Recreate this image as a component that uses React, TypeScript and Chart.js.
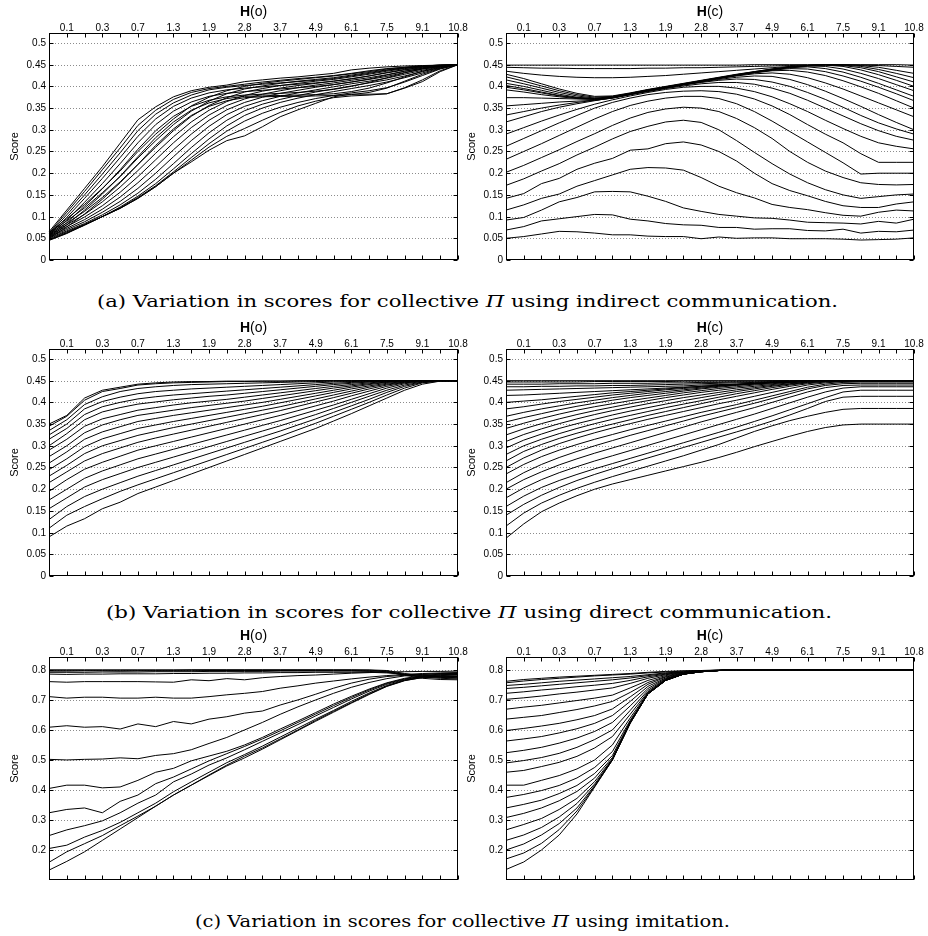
import React, { useEffect, useLayoutEffect, useRef } from 'react';
import { Chart, registerables } from 'chart.js';

Chart.register(...registerables);

// ---------- tick labels ----------
const hTickLabels = ['', '0.1', '', '0.3', '', '0.7', '', '1.3', '', '1.9', '', '2.8', '', '3.7', '', '4.9', '', '6.1', '', '7.5', '', '9.1', '', '10.8'];
const scoreTicks = [0, 0.05, 0.1, 0.15, 0.2, 0.25, 0.3, 0.35, 0.4, 0.45, 0.5];
const imitTicks = [0.2, 0.3, 0.4, 0.5, 0.6, 0.7, 0.8];

// ---------- (a) indirect communication, H(o) ----------
const indirectObs: number[][] = [
  [0.065,0.115,0.165,0.215,0.269,0.323,0.353,0.376,0.39,0.398,0.403,0.411,0.415,0.419,0.422,0.426,0.43,0.438,0.442,0.445,0.447,0.448,0.449,0.45],
  [0.062,0.11,0.158,0.208,0.258,0.31,0.345,0.37,0.386,0.395,0.4,0.405,0.41,0.414,0.418,0.421,0.425,0.43,0.436,0.441,0.444,0.447,0.449,0.45],
  [0.06,0.104,0.15,0.198,0.247,0.298,0.336,0.362,0.38,0.392,0.398,0.402,0.405,0.408,0.411,0.414,0.418,0.424,0.43,0.437,0.442,0.446,0.448,0.45],
  [0.058,0.098,0.142,0.188,0.236,0.285,0.325,0.354,0.373,0.385,0.392,0.396,0.399,0.402,0.405,0.408,0.412,0.417,0.424,0.432,0.439,0.444,0.447,0.45],
  [0.056,0.092,0.133,0.176,0.222,0.27,0.312,0.343,0.364,0.377,0.384,0.388,0.391,0.394,0.397,0.4,0.404,0.41,0.417,0.426,0.435,0.442,0.447,0.45],
  [0.054,0.086,0.124,0.164,0.208,0.255,0.298,0.331,0.354,0.368,0.376,0.38,0.382,0.384,0.386,0.389,0.393,0.4,0.409,0.42,0.431,0.44,0.446,0.45],
  [0.052,0.081,0.115,0.152,0.193,0.238,0.282,0.318,0.345,0.362,0.372,0.377,0.378,0.379,0.38,0.381,0.383,0.388,0.396,0.408,0.422,0.435,0.444,0.45],
  [0.05,0.076,0.106,0.14,0.178,0.22,0.264,0.302,0.333,0.354,0.367,0.374,0.376,0.377,0.377,0.378,0.379,0.381,0.386,0.396,0.412,0.428,0.441,0.45],
  [0.064,0.095,0.128,0.165,0.205,0.25,0.29,0.325,0.355,0.375,0.39,0.4,0.407,0.412,0.416,0.42,0.424,0.429,0.434,0.44,0.444,0.447,0.449,0.45],
  [0.063,0.09,0.12,0.155,0.192,0.235,0.275,0.312,0.343,0.366,0.383,0.394,0.401,0.407,0.412,0.416,0.42,0.426,0.432,0.438,0.443,0.446,0.449,0.45],
  [0.061,0.085,0.112,0.144,0.18,0.22,0.26,0.298,0.331,0.356,0.374,0.387,0.395,0.402,0.407,0.412,0.416,0.422,0.428,0.435,0.441,0.445,0.448,0.45],
  [0.059,0.081,0.105,0.134,0.168,0.206,0.246,0.284,0.318,0.345,0.365,0.379,0.389,0.396,0.402,0.407,0.412,0.418,0.424,0.431,0.438,0.443,0.447,0.45],
  [0.057,0.077,0.099,0.125,0.156,0.192,0.231,0.27,0.305,0.334,0.356,0.371,0.382,0.39,0.397,0.403,0.408,0.414,0.42,0.427,0.435,0.441,0.446,0.45],
  [0.055,0.073,0.093,0.117,0.145,0.178,0.215,0.254,0.29,0.322,0.346,0.363,0.375,0.384,0.391,0.398,0.404,0.41,0.416,0.423,0.432,0.44,0.446,0.45],
  [0.053,0.07,0.088,0.11,0.135,0.165,0.2,0.238,0.275,0.308,0.335,0.354,0.367,0.377,0.385,0.392,0.399,0.406,0.412,0.419,0.428,0.437,0.445,0.45],
  [0.051,0.067,0.084,0.104,0.127,0.154,0.186,0.222,0.259,0.293,0.322,0.344,0.359,0.37,0.379,0.387,0.394,0.401,0.408,0.415,0.424,0.434,0.443,0.45],
  [0.049,0.065,0.082,0.1,0.122,0.147,0.176,0.21,0.245,0.279,0.309,0.333,0.35,0.363,0.373,0.381,0.388,0.395,0.402,0.41,0.42,0.431,0.442,0.45],
  [0.047,0.063,0.081,0.1,0.12,0.144,0.171,0.203,0.236,0.268,0.297,0.32,0.338,0.352,0.363,0.372,0.379,0.385,0.39,0.397,0.41,0.425,0.44,0.45],
  [0.046,0.062,0.08,0.1,0.119,0.142,0.169,0.2,0.23,0.26,0.285,0.303,0.322,0.34,0.355,0.366,0.374,0.378,0.38,0.383,0.397,0.415,0.436,0.45],
  [0.045,0.061,0.081,0.1,0.119,0.142,0.169,0.2,0.226,0.253,0.275,0.286,0.307,0.33,0.346,0.361,0.376,0.382,0.382,0.383,0.396,0.411,0.434,0.45],
];

// ---------- (a) indirect communication, H(c) ----------
const indirectCom: number[][] = [
  [0.05,0.054,0.06,0.066,0.065,0.062,0.058,0.058,0.055,0.054,0.054,0.049,0.053,0.05,0.051,0.051,0.049,0.049,0.049,0.048,0.046,0.047,0.048,0.051],
  [0.069,0.077,0.09,0.095,0.1,0.105,0.104,0.094,0.09,0.084,0.081,0.08,0.075,0.075,0.071,0.072,0.072,0.068,0.067,0.071,0.062,0.066,0.065,0.069],
  [0.092,0.098,0.115,0.134,0.144,0.157,0.158,0.157,0.147,0.135,0.12,0.112,0.105,0.101,0.097,0.096,0.092,0.087,0.086,0.085,0.083,0.089,0.085,0.094],
  [0.115,0.127,0.142,0.152,0.17,0.183,0.196,0.209,0.213,0.212,0.207,0.19,0.17,0.155,0.143,0.128,0.121,0.116,0.109,0.103,0.101,0.11,0.115,0.113],
  [0.142,0.153,0.176,0.188,0.209,0.223,0.234,0.253,0.256,0.268,0.272,0.265,0.25,0.228,0.2,0.176,0.16,0.148,0.135,0.125,0.121,0.121,0.129,0.134],
  [0.172,0.187,0.205,0.222,0.242,0.26,0.279,0.296,0.308,0.318,0.322,0.317,0.3,0.275,0.248,0.222,0.198,0.178,0.162,0.15,0.142,0.146,0.15,0.152],
  [0.202,0.218,0.236,0.254,0.273,0.291,0.31,0.327,0.34,0.348,0.352,0.35,0.342,0.326,0.305,0.28,0.25,0.225,0.205,0.19,0.178,0.174,0.173,0.174],
  [0.232,0.25,0.268,0.287,0.306,0.325,0.342,0.356,0.366,0.373,0.377,0.377,0.372,0.36,0.342,0.32,0.296,0.272,0.248,0.224,0.198,0.2,0.2,0.2],
  [0.262,0.28,0.298,0.316,0.333,0.35,0.363,0.373,0.381,0.386,0.389,0.39,0.388,0.382,0.371,0.355,0.335,0.312,0.29,0.27,0.245,0.225,0.225,0.225],
  [0.29,0.305,0.32,0.334,0.347,0.359,0.369,0.378,0.386,0.393,0.398,0.4,0.4,0.396,0.388,0.376,0.36,0.342,0.322,0.303,0.285,0.27,0.262,0.256],
  [0.318,0.33,0.342,0.352,0.36,0.367,0.374,0.381,0.388,0.395,0.401,0.406,0.409,0.409,0.405,0.396,0.384,0.368,0.35,0.332,0.314,0.298,0.285,0.276],
  [0.334,0.342,0.35,0.357,0.363,0.368,0.373,0.381,0.389,0.396,0.403,0.409,0.414,0.417,0.416,0.41,0.4,0.386,0.37,0.352,0.333,0.316,0.302,0.29],
  [0.355,0.358,0.361,0.364,0.366,0.368,0.373,0.381,0.39,0.397,0.404,0.41,0.416,0.421,0.424,0.423,0.416,0.404,0.389,0.372,0.354,0.335,0.317,0.3],
  [0.374,0.374,0.373,0.372,0.371,0.37,0.374,0.382,0.39,0.397,0.404,0.411,0.418,0.424,0.429,0.431,0.428,0.42,0.408,0.394,0.378,0.362,0.346,0.33],
  [0.392,0.387,0.381,0.376,0.372,0.37,0.374,0.382,0.39,0.397,0.404,0.411,0.418,0.425,0.431,0.436,0.437,0.433,0.425,0.413,0.399,0.384,0.367,0.35],
  [0.398,0.392,0.385,0.378,0.373,0.371,0.374,0.382,0.391,0.398,0.405,0.412,0.419,0.426,0.432,0.437,0.441,0.44,0.434,0.424,0.412,0.398,0.383,0.367],
  [0.402,0.395,0.387,0.379,0.374,0.371,0.375,0.383,0.391,0.398,0.405,0.412,0.419,0.426,0.432,0.438,0.443,0.445,0.441,0.433,0.421,0.407,0.392,0.377],
  [0.407,0.4,0.391,0.382,0.375,0.372,0.375,0.383,0.391,0.398,0.405,0.412,0.419,0.426,0.433,0.439,0.444,0.447,0.446,0.44,0.43,0.418,0.404,0.39],
  [0.415,0.406,0.396,0.386,0.378,0.373,0.376,0.384,0.392,0.399,0.406,0.413,0.42,0.427,0.433,0.439,0.444,0.447,0.449,0.446,0.438,0.427,0.414,0.4],
  [0.422,0.412,0.401,0.39,0.381,0.375,0.377,0.384,0.392,0.399,0.406,0.413,0.42,0.427,0.434,0.44,0.445,0.448,0.449,0.448,0.443,0.434,0.422,0.41],
  [0.428,0.418,0.406,0.394,0.384,0.377,0.378,0.385,0.393,0.4,0.407,0.414,0.421,0.428,0.434,0.44,0.445,0.448,0.45,0.449,0.446,0.439,0.43,0.42],
  [0.435,0.43,0.426,0.423,0.421,0.42,0.42,0.421,0.423,0.425,0.428,0.431,0.434,0.437,0.44,0.443,0.446,0.448,0.45,0.45,0.448,0.444,0.437,0.43],
  [0.444,0.443,0.442,0.442,0.441,0.441,0.441,0.441,0.442,0.442,0.443,0.443,0.444,0.445,0.446,0.447,0.448,0.449,0.45,0.45,0.449,0.448,0.446,0.444],
  [0.449,0.449,0.449,0.449,0.449,0.449,0.449,0.449,0.449,0.449,0.449,0.449,0.449,0.449,0.45,0.45,0.45,0.45,0.45,0.45,0.45,0.45,0.45,0.449],
];

// ---------- (b) direct communication, H(o) ----------
const directObs: number[][] = [
  [0.35,0.37,0.41,0.428,0.435,0.442,0.445,0.447,0.448,0.448,0.449,0.449,0.449,0.449,0.45,0.45,0.45,0.45,0.45,0.45,0.45,0.45,0.45,0.45],
  [0.345,0.368,0.405,0.425,0.432,0.44,0.443,0.445,0.446,0.447,0.448,0.448,0.449,0.449,0.449,0.45,0.45,0.45,0.45,0.45,0.45,0.45,0.45,0.45],
  [0.335,0.36,0.395,0.413,0.425,0.432,0.436,0.439,0.441,0.442,0.443,0.444,0.445,0.446,0.447,0.448,0.449,0.449,0.45,0.45,0.45,0.45,0.45,0.45],
  [0.325,0.35,0.385,0.402,0.412,0.42,0.425,0.428,0.431,0.433,0.435,0.437,0.439,0.441,0.443,0.445,0.447,0.448,0.449,0.45,0.45,0.45,0.45,0.45],
  [0.315,0.34,0.372,0.39,0.4,0.408,0.413,0.417,0.42,0.423,0.426,0.429,0.432,0.435,0.438,0.441,0.444,0.446,0.448,0.449,0.45,0.45,0.45,0.45],
  [0.3,0.328,0.36,0.378,0.388,0.396,0.401,0.406,0.41,0.414,0.417,0.421,0.425,0.429,0.433,0.437,0.441,0.444,0.447,0.449,0.45,0.45,0.45,0.45],
  [0.29,0.315,0.345,0.362,0.372,0.382,0.388,0.394,0.399,0.403,0.407,0.412,0.417,0.422,0.427,0.432,0.437,0.441,0.445,0.448,0.449,0.45,0.45,0.45],
  [0.275,0.3,0.33,0.348,0.36,0.37,0.376,0.382,0.388,0.393,0.398,0.403,0.409,0.415,0.421,0.427,0.433,0.438,0.443,0.447,0.449,0.45,0.45,0.45],
  [0.26,0.286,0.315,0.332,0.344,0.356,0.363,0.37,0.376,0.382,0.388,0.394,0.4,0.407,0.414,0.421,0.428,0.435,0.441,0.446,0.449,0.45,0.45,0.45],
  [0.245,0.27,0.298,0.316,0.328,0.34,0.348,0.356,0.363,0.37,0.377,0.384,0.391,0.399,0.407,0.415,0.423,0.431,0.438,0.444,0.448,0.45,0.45,0.45],
  [0.23,0.255,0.282,0.3,0.312,0.324,0.333,0.342,0.35,0.358,0.366,0.374,0.382,0.39,0.399,0.408,0.417,0.426,0.435,0.442,0.447,0.449,0.45,0.45],
  [0.215,0.24,0.265,0.282,0.295,0.308,0.318,0.327,0.336,0.345,0.354,0.363,0.372,0.381,0.391,0.401,0.411,0.421,0.431,0.44,0.446,0.449,0.45,0.45],
  [0.195,0.222,0.246,0.262,0.276,0.29,0.3,0.31,0.32,0.33,0.34,0.35,0.36,0.37,0.381,0.392,0.403,0.415,0.426,0.437,0.445,0.449,0.45,0.45],
  [0.175,0.2,0.225,0.242,0.256,0.27,0.281,0.292,0.303,0.314,0.325,0.336,0.347,0.358,0.37,0.382,0.394,0.407,0.42,0.433,0.443,0.448,0.45,0.45],
  [0.155,0.18,0.205,0.222,0.236,0.25,0.262,0.274,0.286,0.298,0.31,0.322,0.334,0.346,0.359,0.372,0.386,0.4,0.414,0.428,0.44,0.447,0.45,0.45],
  [0.13,0.16,0.183,0.2,0.215,0.23,0.243,0.256,0.269,0.282,0.295,0.308,0.321,0.334,0.348,0.362,0.377,0.392,0.407,0.423,0.437,0.446,0.45,0.45],
  [0.11,0.14,0.16,0.178,0.195,0.21,0.224,0.238,0.252,0.266,0.28,0.294,0.308,0.322,0.337,0.352,0.368,0.384,0.4,0.417,0.433,0.445,0.449,0.45],
  [0.09,0.115,0.132,0.155,0.17,0.19,0.205,0.22,0.235,0.25,0.265,0.28,0.295,0.31,0.325,0.34,0.357,0.374,0.392,0.41,0.428,0.442,0.449,0.45],
];

// ---------- (b) direct communication, H(c) ----------
const directCom: number[][] = [
  [0.087,0.12,0.148,0.168,0.185,0.2,0.212,0.222,0.232,0.242,0.252,0.262,0.273,0.285,0.298,0.31,0.322,0.333,0.342,0.348,0.35,0.35,0.35,0.35],
  [0.115,0.145,0.168,0.186,0.202,0.216,0.229,0.241,0.253,0.265,0.277,0.29,0.303,0.318,0.333,0.346,0.358,0.368,0.377,0.384,0.386,0.386,0.386,0.386],
  [0.14,0.165,0.186,0.204,0.22,0.234,0.247,0.26,0.272,0.284,0.296,0.308,0.32,0.332,0.344,0.357,0.371,0.386,0.402,0.412,0.414,0.414,0.414,0.414],
  [0.16,0.184,0.204,0.22,0.234,0.247,0.259,0.271,0.283,0.295,0.307,0.319,0.331,0.343,0.356,0.369,0.383,0.397,0.411,0.424,0.428,0.428,0.428,0.428],
  [0.18,0.203,0.222,0.238,0.252,0.265,0.277,0.289,0.301,0.313,0.325,0.337,0.349,0.361,0.373,0.386,0.399,0.412,0.424,0.433,0.436,0.436,0.436,0.436],
  [0.2,0.222,0.24,0.256,0.27,0.283,0.295,0.307,0.319,0.331,0.343,0.355,0.366,0.377,0.388,0.4,0.412,0.424,0.434,0.439,0.44,0.44,0.44,0.44],
  [0.215,0.238,0.257,0.273,0.287,0.3,0.312,0.324,0.335,0.346,0.357,0.368,0.378,0.388,0.398,0.409,0.42,0.431,0.439,0.443,0.444,0.444,0.444,0.444],
  [0.235,0.257,0.275,0.29,0.303,0.315,0.326,0.337,0.347,0.357,0.367,0.377,0.386,0.395,0.405,0.415,0.425,0.435,0.442,0.446,0.447,0.447,0.447,0.447],
  [0.25,0.272,0.29,0.305,0.318,0.33,0.341,0.351,0.361,0.37,0.379,0.388,0.397,0.405,0.414,0.423,0.432,0.44,0.445,0.448,0.449,0.449,0.449,0.449],
  [0.265,0.287,0.303,0.317,0.329,0.34,0.35,0.36,0.37,0.379,0.388,0.397,0.406,0.414,0.422,0.43,0.437,0.443,0.447,0.449,0.45,0.45,0.45,0.45],
  [0.28,0.3,0.315,0.328,0.34,0.351,0.361,0.37,0.379,0.388,0.396,0.404,0.412,0.42,0.427,0.434,0.44,0.445,0.448,0.45,0.45,0.45,0.45,0.45],
  [0.295,0.313,0.327,0.34,0.351,0.361,0.371,0.38,0.388,0.396,0.404,0.411,0.418,0.425,0.431,0.437,0.442,0.446,0.449,0.45,0.45,0.45,0.45,0.45],
  [0.31,0.326,0.339,0.351,0.362,0.372,0.381,0.389,0.397,0.404,0.411,0.417,0.423,0.429,0.434,0.439,0.443,0.447,0.449,0.45,0.45,0.45,0.45,0.45],
  [0.325,0.339,0.351,0.362,0.372,0.381,0.389,0.397,0.404,0.411,0.417,0.423,0.428,0.433,0.437,0.441,0.445,0.448,0.45,0.45,0.45,0.45,0.45,0.45],
  [0.34,0.352,0.363,0.373,0.382,0.39,0.397,0.404,0.41,0.416,0.422,0.427,0.432,0.436,0.44,0.443,0.446,0.448,0.45,0.45,0.45,0.45,0.45,0.45],
  [0.355,0.365,0.374,0.383,0.391,0.398,0.405,0.411,0.416,0.421,0.426,0.431,0.435,0.439,0.442,0.445,0.447,0.449,0.45,0.45,0.45,0.45,0.45,0.45],
  [0.368,0.377,0.385,0.392,0.399,0.405,0.411,0.416,0.421,0.425,0.429,0.433,0.437,0.44,0.443,0.446,0.448,0.449,0.45,0.45,0.45,0.45,0.45,0.45],
  [0.385,0.39,0.396,0.402,0.407,0.412,0.417,0.421,0.425,0.429,0.432,0.435,0.438,0.441,0.444,0.446,0.448,0.449,0.45,0.45,0.45,0.45,0.45,0.45],
  [0.4,0.403,0.406,0.41,0.414,0.418,0.422,0.425,0.428,0.431,0.434,0.437,0.44,0.442,0.444,0.446,0.448,0.449,0.45,0.45,0.45,0.45,0.45,0.45],
  [0.416,0.417,0.419,0.421,0.423,0.425,0.427,0.429,0.431,0.433,0.435,0.437,0.439,0.441,0.443,0.445,0.447,0.449,0.45,0.45,0.45,0.45,0.45,0.45],
  [0.428,0.429,0.43,0.431,0.432,0.433,0.434,0.435,0.436,0.437,0.438,0.44,0.441,0.442,0.444,0.446,0.447,0.449,0.45,0.45,0.45,0.45,0.45,0.45],
  [0.436,0.436,0.437,0.437,0.438,0.438,0.439,0.439,0.44,0.441,0.442,0.443,0.444,0.445,0.446,0.447,0.448,0.449,0.45,0.45,0.45,0.45,0.45,0.45],
  [0.442,0.442,0.442,0.443,0.443,0.443,0.444,0.444,0.444,0.445,0.445,0.446,0.446,0.447,0.447,0.448,0.449,0.45,0.45,0.45,0.45,0.45,0.45,0.45],
  [0.447,0.447,0.447,0.447,0.447,0.448,0.448,0.448,0.448,0.448,0.449,0.449,0.449,0.449,0.449,0.45,0.45,0.45,0.45,0.45,0.45,0.45,0.45,0.45],
  [0.45,0.45,0.45,0.45,0.45,0.45,0.45,0.45,0.45,0.45,0.45,0.45,0.45,0.45,0.45,0.45,0.45,0.45,0.45,0.45,0.45,0.45,0.45,0.45],
];

// ---------- (c) imitation, H(o) ----------
const imitObs: number[][] = [
  [0.8,0.8,0.8,0.8,0.8,0.8,0.8,0.8,0.8,0.8,0.8,0.8,0.8,0.8,0.8,0.8,0.8,0.8,0.8,0.798,0.788,0.78,0.776,0.774],
  [0.799,0.799,0.799,0.799,0.799,0.799,0.799,0.799,0.8,0.8,0.8,0.8,0.8,0.8,0.8,0.8,0.8,0.8,0.799,0.796,0.785,0.776,0.772,0.77],
  [0.796,0.796,0.797,0.797,0.796,0.797,0.797,0.797,0.797,0.798,0.798,0.798,0.798,0.798,0.798,0.798,0.798,0.798,0.797,0.794,0.782,0.772,0.768,0.767],
  [0.792,0.792,0.792,0.793,0.793,0.793,0.794,0.794,0.794,0.795,0.795,0.795,0.795,0.796,0.796,0.796,0.796,0.796,0.795,0.792,0.784,0.778,0.775,0.773],
  [0.786,0.785,0.786,0.786,0.787,0.787,0.787,0.788,0.788,0.789,0.789,0.79,0.79,0.791,0.791,0.792,0.792,0.792,0.792,0.79,0.786,0.782,0.779,0.778],
  [0.761,0.759,0.761,0.761,0.761,0.761,0.76,0.759,0.767,0.764,0.771,0.767,0.774,0.778,0.781,0.783,0.786,0.789,0.791,0.793,0.794,0.795,0.795,0.796],
  [0.711,0.706,0.709,0.709,0.706,0.706,0.709,0.706,0.706,0.711,0.717,0.722,0.728,0.739,0.747,0.756,0.763,0.77,0.776,0.781,0.785,0.788,0.79,0.791],
  [0.609,0.614,0.609,0.611,0.603,0.62,0.611,0.628,0.62,0.636,0.644,0.656,0.663,0.683,0.7,0.719,0.739,0.756,0.769,0.778,0.782,0.785,0.787,0.789],
  [0.502,0.5,0.502,0.503,0.507,0.504,0.515,0.521,0.534,0.555,0.575,0.6,0.625,0.652,0.677,0.7,0.722,0.742,0.758,0.771,0.78,0.785,0.788,0.79],
  [0.405,0.416,0.416,0.407,0.41,0.432,0.459,0.472,0.497,0.513,0.529,0.55,0.575,0.603,0.63,0.658,0.686,0.712,0.736,0.757,0.772,0.781,0.786,0.788],
  [0.324,0.335,0.34,0.324,0.362,0.383,0.421,0.443,0.47,0.497,0.521,0.545,0.57,0.597,0.625,0.653,0.681,0.708,0.733,0.755,0.77,0.779,0.784,0.786],
  [0.248,0.267,0.281,0.297,0.324,0.356,0.383,0.427,0.453,0.483,0.507,0.534,0.562,0.59,0.618,0.647,0.675,0.703,0.729,0.752,0.768,0.778,0.783,0.785],
  [0.205,0.216,0.243,0.265,0.292,0.324,0.356,0.394,0.427,0.459,0.491,0.518,0.546,0.576,0.606,0.636,0.665,0.695,0.723,0.748,0.766,0.776,0.781,0.783],
  [0.159,0.194,0.221,0.248,0.281,0.313,0.346,0.383,0.416,0.448,0.48,0.507,0.536,0.567,0.598,0.629,0.659,0.689,0.718,0.745,0.764,0.775,0.779,0.78],
  [0.133,0.162,0.194,0.232,0.27,0.308,0.346,0.383,0.416,0.45,0.483,0.513,0.54,0.57,0.6,0.632,0.662,0.691,0.72,0.746,0.765,0.774,0.777,0.778],
];

// ---------- (c) imitation, H(c) ----------
const imitCom: number[][] = [
  [0.762,0.768,0.772,0.776,0.779,0.782,0.785,0.788,0.792,0.795,0.797,0.798,0.799,0.8,0.8,0.8,0.8,0.8,0.8,0.8,0.8,0.8,0.8,0.8],
  [0.757,0.763,0.768,0.772,0.776,0.78,0.783,0.786,0.79,0.793,0.796,0.798,0.799,0.8,0.8,0.8,0.8,0.8,0.8,0.8,0.8,0.8,0.8,0.8],
  [0.748,0.752,0.757,0.762,0.766,0.77,0.774,0.778,0.784,0.79,0.794,0.797,0.799,0.8,0.8,0.8,0.8,0.8,0.8,0.8,0.8,0.8,0.8,0.8],
  [0.738,0.742,0.747,0.752,0.757,0.762,0.767,0.773,0.781,0.788,0.793,0.797,0.799,0.8,0.8,0.8,0.8,0.8,0.8,0.8,0.8,0.8,0.8,0.8],
  [0.722,0.727,0.733,0.738,0.744,0.749,0.755,0.765,0.777,0.786,0.792,0.796,0.799,0.8,0.8,0.8,0.8,0.8,0.8,0.8,0.8,0.8,0.8,0.8],
  [0.702,0.707,0.713,0.72,0.726,0.733,0.74,0.755,0.772,0.784,0.791,0.796,0.798,0.8,0.8,0.8,0.8,0.8,0.8,0.8,0.8,0.8,0.8,0.8],
  [0.669,0.676,0.682,0.69,0.698,0.706,0.716,0.74,0.765,0.781,0.79,0.795,0.798,0.8,0.8,0.8,0.8,0.8,0.8,0.8,0.8,0.8,0.8,0.8],
  [0.636,0.642,0.648,0.658,0.668,0.68,0.695,0.725,0.758,0.778,0.789,0.795,0.798,0.8,0.8,0.8,0.8,0.8,0.8,0.8,0.8,0.8,0.8,0.8],
  [0.598,0.605,0.613,0.622,0.634,0.648,0.67,0.71,0.752,0.776,0.788,0.795,0.798,0.8,0.8,0.8,0.8,0.8,0.8,0.8,0.8,0.8,0.8,0.8],
  [0.563,0.57,0.578,0.59,0.604,0.622,0.648,0.695,0.745,0.773,0.787,0.794,0.798,0.8,0.8,0.8,0.8,0.8,0.8,0.8,0.8,0.8,0.8,0.8],
  [0.524,0.532,0.542,0.556,0.573,0.595,0.625,0.68,0.738,0.771,0.787,0.794,0.798,0.8,0.8,0.8,0.8,0.8,0.8,0.8,0.8,0.8,0.8,0.8],
  [0.49,0.498,0.508,0.522,0.542,0.568,0.6,0.665,0.732,0.769,0.786,0.794,0.798,0.8,0.8,0.8,0.8,0.8,0.8,0.8,0.8,0.8,0.8,0.8],
  [0.459,0.465,0.478,0.492,0.512,0.54,0.578,0.652,0.727,0.768,0.786,0.794,0.798,0.8,0.8,0.8,0.8,0.8,0.8,0.8,0.8,0.8,0.8,0.8],
  [0.416,0.416,0.432,0.448,0.47,0.5,0.55,0.64,0.724,0.767,0.786,0.794,0.798,0.8,0.8,0.8,0.8,0.8,0.8,0.8,0.8,0.8,0.8,0.8],
  [0.375,0.385,0.398,0.415,0.44,0.475,0.528,0.632,0.722,0.766,0.786,0.794,0.798,0.8,0.8,0.8,0.8,0.8,0.8,0.8,0.8,0.8,0.8,0.8],
  [0.34,0.352,0.366,0.388,0.415,0.455,0.515,0.628,0.72,0.766,0.786,0.794,0.798,0.8,0.8,0.8,0.8,0.8,0.8,0.8,0.8,0.8,0.8,0.8],
  [0.308,0.322,0.34,0.364,0.395,0.44,0.508,0.626,0.72,0.766,0.786,0.794,0.798,0.8,0.8,0.8,0.8,0.8,0.8,0.8,0.8,0.8,0.8,0.8],
  [0.267,0.285,0.305,0.335,0.372,0.428,0.504,0.625,0.72,0.765,0.786,0.794,0.798,0.8,0.8,0.8,0.8,0.8,0.8,0.8,0.8,0.8,0.8,0.8],
  [0.232,0.25,0.275,0.31,0.355,0.42,0.502,0.624,0.72,0.765,0.786,0.794,0.798,0.8,0.8,0.8,0.8,0.8,0.8,0.8,0.8,0.8,0.8,0.8],
  [0.2,0.22,0.25,0.288,0.34,0.415,0.5,0.623,0.72,0.765,0.786,0.794,0.798,0.8,0.8,0.8,0.8,0.8,0.8,0.8,0.8,0.8,0.8,0.8],
  [0.17,0.19,0.222,0.268,0.33,0.412,0.5,0.622,0.72,0.765,0.786,0.794,0.798,0.8,0.8,0.8,0.8,0.8,0.8,0.8,0.8,0.8,0.8,0.8],
  [0.135,0.16,0.2,0.25,0.32,0.41,0.5,0.622,0.72,0.765,0.786,0.794,0.798,0.8,0.8,0.8,0.8,0.8,0.8,0.8,0.8,0.8,0.8,0.8],
];

// ---------- drawing helpers ----------
const SANS = '"Liberation Sans", Arial, Helvetica, sans-serif';

const framePlugin = {
  id: 'frame',
  beforeDatasetsDraw(chart: any, _args: any, opts: any) {
    const { ctx, chartArea: a } = chart;
    const y = chart.scales.y;
    ctx.save();
    ctx.strokeStyle = '#8c8c8c';
    ctx.lineWidth = 1;
    ctx.setLineDash([1, 2]);
    for (const v of opts.yTicks as number[]) {
      const py = Math.round(y.getPixelForValue(v)) + 0.5;
      if (py < a.top + 2 || py > a.bottom - 2) continue;
      ctx.beginPath();
      ctx.moveTo(a.left, py);
      ctx.lineTo(a.right, py);
      ctx.stroke();
    }
    ctx.restore();
  },
  afterDatasetsDraw(chart: any, _args: any, opts: any) {
    const { ctx, chartArea: a } = chart;
    const x = chart.scales.x;
    const y = chart.scales.y;
    const L = Math.round(a.left) + 0.5;
    const T = Math.round(a.top) + 0.5;
    const R = Math.round(a.right) - 0.5;
    const B = Math.round(a.bottom) - 0.5;
    ctx.save();
    ctx.strokeStyle = '#000';
    ctx.lineWidth = 1;
    ctx.setLineDash([]);
    ctx.strokeRect(L, T, R - L, B - T);
    const labels: string[] = chart.data.labels;
    ctx.beginPath();
    labels.forEach((_l, i) => {
      const px = Math.round(x.getPixelForValue(i)) + 0.5;
      ctx.moveTo(px, T);
      ctx.lineTo(px, T + 4);
      ctx.moveTo(px, B);
      ctx.lineTo(px, B - 4);
    });
    for (const v of opts.yTicks as number[]) {
      const py = Math.round(y.getPixelForValue(v)) + 0.5;
      ctx.moveTo(L, py);
      ctx.lineTo(L + 4, py);
      ctx.moveTo(R, py);
      ctx.lineTo(R - 4, py);
    }
    ctx.stroke();

    ctx.fillStyle = '#000';
    ctx.font = `10px ${SANS}`;
    ctx.textAlign = 'center';
    ctx.textBaseline = 'alphabetic';
    labels.forEach((l, i) => {
      if (!l) return;
      ctx.fillText(l, x.getPixelForValue(i), a.top - 2.5);
    });
    ctx.textAlign = 'right';
    ctx.textBaseline = 'middle';
    for (const v of opts.yTicks as number[]) {
      ctx.fillText(String(v), a.left - 3, Math.round(y.getPixelForValue(v)) + 0.5);
    }

    // axis title: bold H + normal (o)/(c)
    const head = 'H';
    const tail = `(${opts.sub})`;
    ctx.textBaseline = 'alphabetic';
    ctx.textAlign = 'left';
    ctx.font = `bold 14px ${SANS}`;
    const w1 = ctx.measureText(head).width;
    ctx.font = `14px ${SANS}`;
    const w2 = ctx.measureText(tail).width;
    const cx = (a.left + a.right) / 2;
    const sx = cx - (w1 + w2) / 2;
    ctx.font = `bold 14px ${SANS}`;
    ctx.fillText(head, sx, a.top - 17);
    ctx.font = `14px ${SANS}`;
    ctx.fillText(tail, sx + w1, a.top - 17);

    // y title
    ctx.save();
    ctx.translate(a.left - 34, (a.top + a.bottom) / 2);
    ctx.rotate(-Math.PI / 2);
    ctx.textAlign = 'center';
    ctx.textBaseline = 'middle';
    ctx.font = `11px ${SANS}`;
    ctx.fillText('Score', 0, 0);
    ctx.restore();
    ctx.restore();
  },
};

type PanelSpec = {
  x0: number; y0: number; w: number; h: number;
  plotL: number; plotT: number; plotR: number; plotB: number;
  series: number[][]; yMin: number; yMax: number; yTicks: number[]; sub: string;
};

function Panel({ spec }: { spec: PanelSpec }) {
  const ref = useRef<HTMLCanvasElement | null>(null);
  useEffect(() => {
    const canvas = ref.current!;
    const chart = new Chart(canvas, {
      type: 'line',
      data: {
        labels: hTickLabels,
        datasets: spec.series.map((s) => ({
          data: s,
          borderColor: '#000',
          borderWidth: 1,
          pointRadius: 0,
          fill: false,
          tension: 0,
        })),
      },
      options: {
        animation: false,
        responsive: false,
        maintainAspectRatio: false,
        devicePixelRatio: 1,
        events: [],
        layout: {
          padding: {
            left: spec.plotL - spec.x0,
            top: spec.plotT - spec.y0,
            right: spec.x0 + spec.w - spec.plotR,
            bottom: spec.y0 + spec.h - spec.plotB,
          },
        },
        plugins: {
          legend: { display: false },
          tooltip: { enabled: false },
          frame: { yTicks: spec.yTicks, sub: spec.sub },
        } as any,
        scales: {
          x: { type: 'category', display: false, offset: false },
          y: { type: 'linear', display: false, min: spec.yMin, max: spec.yMax },
        },
      },
      plugins: [framePlugin as any],
    });
    return () => chart.destroy();
  }, [spec]);
  return (
    <canvas
      ref={ref}
      width={spec.w}
      height={spec.h}
      style={{ position: 'absolute', left: spec.x0, top: spec.y0, width: spec.w, height: spec.h }}
    />
  );
}

function Caption({ left, width, top, size, children }: { left: number; width: number; top: number; size: number; children: React.ReactNode }) {
  const ref = useRef<HTMLSpanElement | null>(null);
  useLayoutEffect(() => {
    const el = ref.current!;
    el.style.transform = 'none';
    const w = el.getBoundingClientRect().width;
    if (w > 0) el.style.transform = `scaleX(${width / w})`;
  }, [width]);
  return (
    <div style={{ position: 'absolute', left, top, width, height: 22 }}>
      <span
        ref={ref}
        style={{
          display: 'inline-block',
          whiteSpace: 'nowrap',
          transformOrigin: 'left top',
          fontFamily: '"DejaVu Serif", "Liberation Serif", serif',
          fontSize: size,
          lineHeight: '20px',
          color: '#000',
        }}
      >
        {children}
      </span>
    </div>
  );
}

const LEFT = { x0: 0, w: 480, plotL: 49, plotR: 458 };
const RIGHT = { x0: 462, w: 466, plotL: 506, plotR: 914 };
const ROW_A = { y0: 0, h: 266, plotT: 33, plotB: 260 };
const ROW_B = { y0: 316, h: 266, plotT: 349, plotB: 576 };
const ROW_C = { y0: 624, h: 262, plotT: 657, plotB: 880 };

const panels: PanelSpec[] = [
  { ...LEFT, ...ROW_A, series: indirectObs, yMin: 0, yMax: 0.523, yTicks: scoreTicks, sub: 'o' },
  { ...RIGHT, ...ROW_A, series: indirectCom, yMin: 0, yMax: 0.523, yTicks: scoreTicks, sub: 'c' },
  { ...LEFT, ...ROW_B, series: directObs, yMin: 0, yMax: 0.523, yTicks: scoreTicks, sub: 'o' },
  { ...RIGHT, ...ROW_B, series: directCom, yMin: 0, yMax: 0.523, yTicks: scoreTicks, sub: 'c' },
  { ...LEFT, ...ROW_C, series: imitObs, yMin: 0.1, yMax: 0.843, yTicks: imitTicks, sub: 'o' },
  { ...RIGHT, ...ROW_C, series: imitCom, yMin: 0.1, yMax: 0.843, yTicks: imitTicks, sub: 'c' },
];

export default function App() {
  return (
    <div style={{ position: 'absolute', left: 0, top: 0, width: 928, height: 936, background: '#fff', overflow: 'hidden' }}>
      {panels.map((p, i) => (
        <Panel key={i} spec={p} />
      ))}
      <Caption left={97} width={741} top={290.5} size={17.5}>
        (a) Variation in scores for collective <i>Π</i> using indirect communication.
      </Caption>
      <Caption left={106} width={726} top={602} size={17.5}>
        (b) Variation in scores for collective <i>Π</i> using direct communication.
      </Caption>
      <Caption left={195} width={535} top={912} size={16.5}>
        (c) Variation in scores for collective <i>Π</i> using imitation.
      </Caption>
    </div>
  );
}
